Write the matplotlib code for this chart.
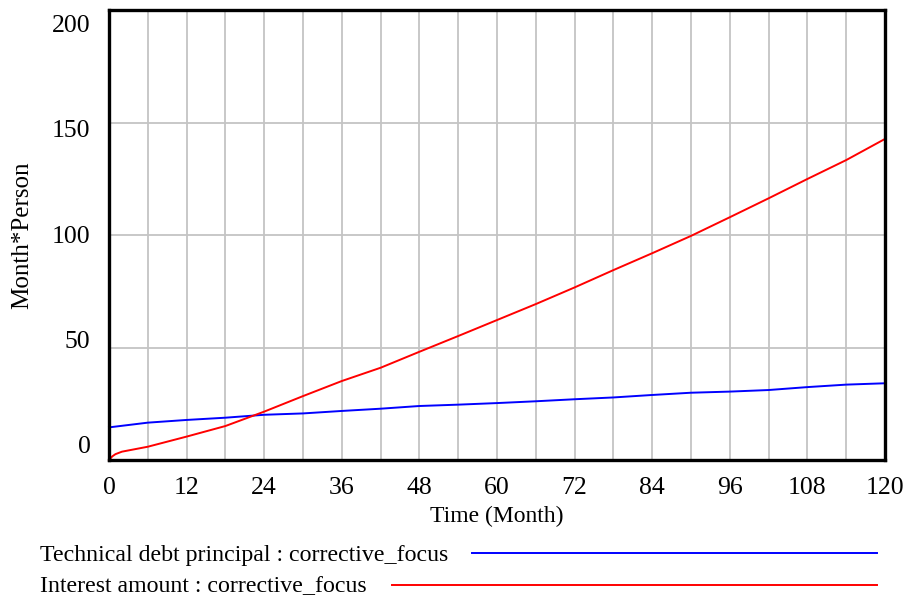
import matplotlib
matplotlib.use("Agg")
import matplotlib.pyplot as plt

plt.rcParams["font.family"] = ["Liberation Serif", "DejaVu Serif"]

# Simulation output (Month*Person) for the corrective_focus run
time_principal = [0, 6, 12, 18, 24, 30, 36, 42, 48, 54, 60, 66, 72, 78, 84, 90, 96, 102, 108, 114, 120]
principal = [14.5, 16.6, 17.8, 18.8, 20.1, 20.7, 21.8, 22.8, 24.0, 24.6, 25.3, 26.1, 27.0, 27.8, 28.9, 29.9, 30.4, 31.1, 32.4, 33.5, 34.1]

time_interest = [0, 0.5, 1, 2, 6, 12, 18, 24, 30, 36, 42, 48, 54, 60, 66, 72, 78, 84, 90, 96, 102, 108, 114, 120]
interest = [0.0, 1.6, 2.6, 3.7, 5.9, 10.4, 15.1, 21.5, 28.4, 35.1, 41.0, 48.1, 55.1, 62.2, 69.3, 76.7, 84.4, 91.9, 99.6, 107.9, 116.3, 124.9, 133.3, 142.7]

x_ticks = [0, 12, 24, 36, 48, 60, 72, 84, 96, 108, 120]
y_ticks = [0, 50, 100, 150, 200]

legend_labels = ["Technical debt principal : corrective_focus",
                 "Interest amount : corrective_focus"]

fig = plt.figure(figsize=(9.09, 6.0), dpi=100)
ax = fig.add_axes([109 / 909, 140 / 600, 776 / 909, 450 / 600])

ax.plot(time_principal, principal, color="#0000ff", lw=1.4, zorder=3, clip_on=False)
ax.plot(time_interest, interest, color="#ff0000", lw=1.4, zorder=3, clip_on=False)

ax.set_xlim(0, 120)
ax.set_ylim(0, 200)

# grid: every 6 months, every 50 units
for xv in range(6, 120, 6):
    ax.axvline(xv, color="#c4c4c4", lw=1.3, zorder=1)
for yv in y_ticks[1:-1]:
    ax.axhline(yv, color="#c4c4c4", lw=1.3, zorder=1)

for sp in ax.spines.values():
    sp.set_linewidth(2.4)
    sp.set_color("black")
    sp.set_zorder(4)

ax.set_xticks(x_ticks)
ax.set_xticklabels([str(v) for v in x_ticks], fontsize=18.5)
ax.tick_params(axis="x", length=0, pad=12)

# y labels are spread evenly between the top and bottom of the frame
ax.set_yticks([])
for v in y_ticks:
    frac = 0.029 + v / 200 * (0.964 - 0.029)
    ax.text(-0.024, frac, str(v), transform=ax.transAxes, ha="right",
            va="center", fontsize=18.5)

ax.set_xlabel("Time (Month)", fontsize=17, labelpad=5)
fig.text(22 / 909, 1 - 235 / 600, "Month*Person", rotation=90,
         ha="center", va="center", fontsize=18)

# legend rows: label text followed by a line sample
rows = [(553, 472, "#0000ff"), (585, 392, "#ff0000")]
for (ypx, x0, col), lab in zip(rows, legend_labels):
    yf = 1 - ypx / 600
    fig.text(40 / 909, yf - 2 / 600, lab, ha="left", va="center", fontsize=17.2)
    fig.add_artist(plt.Line2D([x0 / 909, 877 / 909], [yf, yf],
                              color=col, lw=1.4, transform=fig.transFigure))

fig.savefig("out.png", dpi=100)
